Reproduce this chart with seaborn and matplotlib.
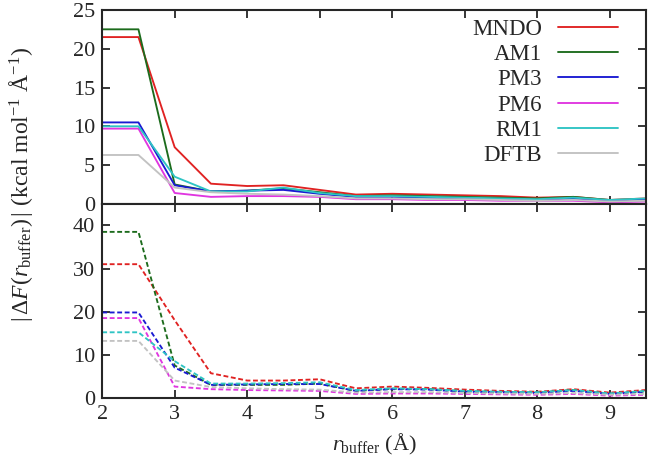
import numpy as np
import pandas as pd
import seaborn as sns
import matplotlib
matplotlib.use('Agg')
import matplotlib.pyplot as plt

# buffer radius (Angstrom)
r_buffer = [2.0, 2.5, 3.0, 3.5, 4.0, 4.5, 5.0, 5.5, 6.0, 6.5, 7.0, 7.5, 8.0, 8.5, 9.0, 9.5]
methods = ['MNDO', 'AM1', 'PM3', 'PM6', 'RM1', 'DFTB']
colors = ['#e02222', '#1c6b1c', '#1a1ad2', '#e036e0', '#2ec4c4', '#c2c2c2']

# top panel (solid lines)
top_mndo = [21.5, 21.5, 7.3, 2.6, 2.3, 2.4, 1.8, 1.2, 1.3, 1.2, 1.1, 1.0, 0.8, 0.9, 0.5, 0.7]
top_am1 = [22.5, 22.5, 2.5, 1.6, 1.7, 2.0, 1.5, 1.0, 1.1, 1.0, 0.9, 0.8, 0.7, 0.9, 0.5, 0.6]
top_pm3 = [10.5, 10.5, 2.4, 1.6, 1.7, 1.8, 1.3, 0.9, 0.9, 0.8, 0.7, 0.6, 0.5, 0.7, 0.4, 0.6]
top_pm6 = [9.7, 9.7, 1.4, 0.9, 1.0, 1.0, 0.9, 0.6, 0.6, 0.5, 0.5, 0.4, 0.4, 0.4, 0.2, 0.3]
top_rm1 = [10.0, 10.0, 3.5, 1.6, 1.6, 2.1, 1.4, 1.0, 1.0, 0.9, 0.8, 0.7, 0.6, 0.8, 0.5, 0.7]
top_dftb = [6.3, 6.3, 2.1, 1.5, 1.3, 1.2, 1.0, 0.7, 0.7, 0.6, 0.6, 0.5, 0.4, 0.5, 0.3, 0.4]

# bottom panel (dashed lines)
bot_mndo = [31.0, 31.0, 18.0, 5.7, 4.0, 4.0, 4.3, 2.2, 2.6, 2.3, 1.9, 1.6, 1.4, 2.0, 1.2, 1.8]
bot_am1 = [38.5, 38.5, 7.5, 3.0, 3.0, 3.0, 3.3, 1.6, 2.1, 2.0, 1.5, 1.3, 1.2, 1.8, 0.9, 1.5]
bot_pm3 = [19.8, 19.8, 7.0, 3.0, 3.1, 3.2, 3.2, 1.6, 2.0, 1.9, 1.4, 1.3, 1.1, 1.6, 0.9, 1.4]
bot_pm6 = [18.5, 18.5, 2.6, 2.0, 1.8, 1.7, 1.6, 0.9, 1.0, 1.0, 0.9, 0.8, 0.7, 0.9, 0.5, 0.7]
bot_rm1 = [15.2, 15.2, 8.5, 3.3, 3.3, 3.4, 3.6, 1.8, 2.2, 2.0, 1.6, 1.4, 1.3, 1.8, 1.0, 1.6]
bot_dftb = [13.2, 13.2, 4.0, 2.5, 2.2, 2.0, 1.9, 1.2, 1.3, 1.3, 1.1, 1.0, 0.9, 1.1, 0.7, 0.9]


def long_form(series):
    rows = []
    for name, vals in zip(methods, series):
        for r, v in zip(r_buffer, vals):
            rows.append((name, r, v))
    return pd.DataFrame(rows, columns=['method', 'r', 'dF'])


df_top = long_form([top_mndo, top_am1, top_pm3, top_pm6, top_rm1, top_dftb])
df_bot = long_form([bot_mndo, bot_am1, bot_pm3, bot_pm6, bot_rm1, bot_dftb])

sns.set_style('ticks')
plt.rcParams['font.family'] = ['Liberation Serif', 'DejaVu Serif']
plt.rcParams['mathtext.fontset'] = 'custom'
plt.rcParams['mathtext.rm'] = 'Liberation Serif'
plt.rcParams['mathtext.it'] = 'Liberation Serif:italic'
plt.rcParams['mathtext.bf'] = 'Liberation Serif:bold'

palette = dict(zip(methods, colors))

fig, (ax1, ax2) = plt.subplots(2, 1, figsize=(6.51, 4.73), dpi=100, sharex=True)
fig.subplots_adjust(left=0.157, right=0.992, top=0.979, bottom=0.159, hspace=0)

sns.lineplot(data=df_top, x='r', y='dF', hue='method', hue_order=methods,
             palette=palette, linewidth=1.35, ax=ax1)
sns.lineplot(data=df_bot, x='r', y='dF', hue='method', hue_order=methods,
             palette=palette, linewidth=1.35, ax=ax2, legend=False)
for line in ax2.get_lines():
    line.set_dashes((2.6, 1.4))

ax1.set_ylim(0, 25)
ax1.set_yticks([0, 5, 10, 15, 20, 25])
ax2.set_ylim(0, 45)
ax2.set_yticks([0, 10, 20, 30, 40])
ax2.set_xlim(2, 9.5)
ax2.set_xticks([2, 3, 4, 5, 6, 7, 8, 9])

for ax in (ax1, ax2):
    ax.set_xlabel('')
    ax.set_ylabel('')
    ax.tick_params(direction='in', length=6, width=1.3, labelsize=16,
                   top=True, right=True, pad=5)
    for sp in ax.spines.values():
        sp.set_linewidth(1.5)
        sp.set_visible(True)

ax2.set_xlabel(r'$r_{\mathrm{buffer}}$ ($\mathrm{\AA}$)', fontsize=16, labelpad=6)
fig.text(0.032, 0.61, r'$|\,\Delta F(r_{\mathrm{buffer}})\,|$ (kcal mol$^{-1}$ $\mathrm{\AA}^{-1}$)',
         rotation=90, ha='center', va='center', fontsize=17)

leg = ax1.legend(loc='upper right', frameon=False, markerfirst=False, fontsize=16.5,
                 handlelength=2.6, labelspacing=0.18, borderaxespad=0.2,
                 handletextpad=0.7, borderpad=0.2)
for t in leg.get_texts():
    t.set_ha('right')
# shift legend a bit away from the right spine
leg.set_bbox_to_anchor((0.965, 1.0), transform=ax1.transAxes)

plt.savefig('out.png', dpi=100)
